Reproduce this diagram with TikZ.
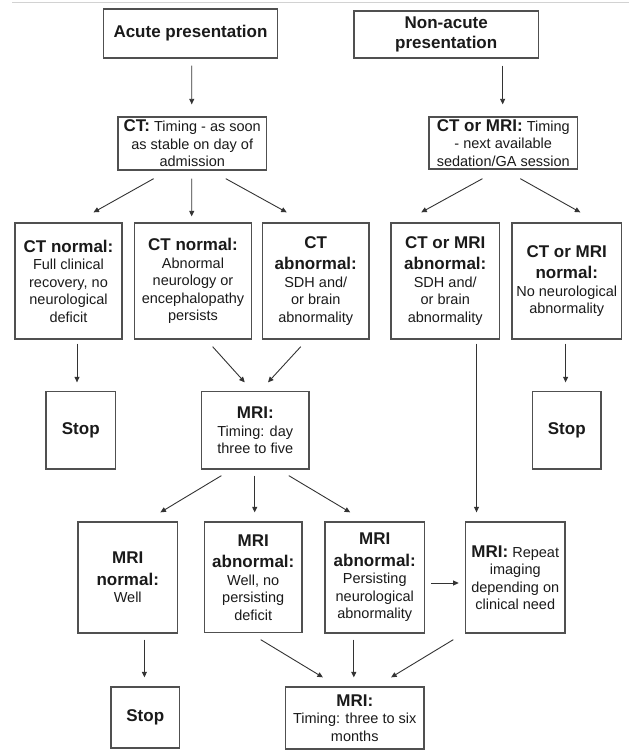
\documentclass[tikz,border=0pt]{standalone}
\usepackage{fontspec}
\setmainfont{Liberation Sans}
\usetikzlibrary{calc,arrows.meta}
\definecolor{boxline}{HTML}{505050}
\definecolor{arrline}{HTML}{333333}
\definecolor{txt}{HTML}{1A1A1A}
\newcommand\hd[1]{{\fontsize{17}{17.5}\selectfont\bfseries #1}}
\begin{document}
\begin{tikzpicture}[x=1pt,y=-1pt,
  box/.style={draw=boxline, line width=1.3pt, align=center, inner sep=0pt, text=txt,
    font=\fontsize{14.5}{17.5}\selectfont},
  arr/.style={draw=arrline, line width=0.9pt, -{Triangle[length=5.5pt,width=5pt]}}]
\useasboundingbox (0,0) rectangle (629,751);
\draw[gray!35, line width=1pt] (12,3) -- (629,3);
% row 1
\node[box, minimum width=174pt, minimum height=49pt] (acute) at (190.5,33.5) {\hd{Acute presentation}};
\node[box, minimum width=184.5pt, minimum height=47pt] (nonacute) at (446.25,34.5) {\hd{Non-acute}\\[3pt]\hd{presentation}};
% row 2
\node[box, minimum width=148.5pt, minimum height=53pt] (ct) at (192.25,143.5) {\hd{CT:} Timing - as soon\\as stable on day of\\admission};
\node[box, minimum width=148.5pt, minimum height=52pt] (ctmri) at (503.25,143) {\hd{CT or MRI:} Timing\\- next available\\sedation/GA session};
% row 3
\node[box, minimum width=107pt, minimum height=116pt] (n1) at (68.5,281) {\hd{CT normal:}\\Full clinical\\recovery, no\\neurological\\deficit};
\node[box, minimum width=117pt, minimum height=116pt] (n2) at (193,281) {\hd{CT normal:}\\Abnormal\\neurology or\\encephalopathy\\persists};
\node[box, minimum width=106.5pt, minimum height=116pt] (n3) at (315.75,281) {\hd{CT}\\[4pt]\hd{abnormal:}\\SDH and/\\or brain\\abnormality};
\node[box, minimum width=108.5pt, minimum height=116pt] (n4) at (445.25,281) {\hd{CT or MRI}\\[4pt]\hd{abnormal:}\\SDH and/\\or brain\\abnormality};
\node[box, minimum width=109.5pt, minimum height=116pt] (n5) at (566.75,281) {\hd{CT or MRI}\\[4pt]\hd{normal:}\\No neurological\\abnormality};
% row 4
\node[box, minimum width=69.5pt, minimum height=77.5pt] (stop1) at (80.75,430.25) {\hd{Stop}};
\node[box, minimum width=107.5pt, minimum height=77.5pt] (mri) at (255.25,430.25) {\hd{MRI:}\\Timing: day\\three to five};
\node[box, minimum width=68.5pt, minimum height=77.5pt] (stop2) at (566.75,430.25) {\hd{Stop}};
% row 5
\node[box, minimum width=99.5pt, minimum height=111pt] (m1) at (127.75,577.5) {\hd{MRI}\\[4pt]\hd{normal:}\\Well};
\node[box, minimum width=97.5pt, minimum height=110.5pt] (m2) at (253.25,577.25) {\hd{MRI}\\[4pt]\hd{abnormal:}\\Well, no\\persisting\\deficit};
\node[box, minimum width=99.5pt, minimum height=111pt] (m3) at (374.75,577.5) {\hd{MRI}\\[4pt]\hd{abnormal:}\\Persisting\\neurological\\abnormality};
\node[box, minimum width=99.5pt, minimum height=111pt] (m4) at (515.25,577.5) {\hd{MRI:} Repeat\\imaging\\depending on\\clinical need};
% row 6
\node[box, minimum width=68.5pt, minimum height=61pt] (stop3) at (145.25,717.5) {\hd{Stop}};
\node[box, minimum width=138.5pt, minimum height=62pt] (final) at (354.75,718) {\hd{MRI:}\\Timing: three to six\\months};
% connectors
\draw[arr] ($(acute.south)+(1.2,7)$) -- ($(ct.north)+(-0.5,-12)$);
\draw[arr] ($(nonacute.south)+(56.4,7)$) -- ($(ctmri.north)+(-0.6,-12)$);
\draw[arr] ($(ct.south)+(-38.6,8)$) -- ($(n1.north)+(25,-10)$);
\draw[arr] ($(ct.south)+(-0.5,8)$) -- ($(n2.north)+(-1.3,-6)$);
\draw[arr] ($(ct.south)+(33.5,8)$) -- ($(n3.north)+(-29,-10)$);
\draw[arr] ($(ctmri.south)+(-20.75,9)$) -- ($(n4.north)+(-24,-10)$);
\draw[arr] ($(ctmri.south)+(17,9)$) -- ($(n5.north)+(13.6,-10)$);
\draw[arr] ($(n1.south)+(8.5,4)$) -- ($(stop1.north)+(-3.75,-8.5)$);
\draw[arr] ($(n5.south)+(-1.15,4)$) -- ($(stop2.north)+(-1.15,-8.5)$);
\draw[arr] ($(n4.south)+(31.25,4)$) -- ($(m4.north)+(-38.75,-9)$);
\draw[arr] ($(n2.south)+(19.6,7)$) -- ($(mri.north)+(-10.5,-8.5)$);
\draw[arr] ($(n3.south)+(-15,7)$) -- ($(mri.north)+(12.75,-8.5)$);
\draw[arr] ($(mri.south)+(-33.85,6)$) -- ($(m1.north)+(32.65,-9)$);
\draw[arr] ($(mri.south)+(-0.55,6)$) -- ($(m2.north)+(1.45,-9)$);
\draw[arr] ($(mri.south)+(33.55,6)$) -- ($(m3.north)+(-24.55,-9)$);
\draw[arr] ($(m3.east)+(5.9,5.5)$) -- ($(m4.west)+(-6.2,5.5)$);
\draw[arr] ($(m1.south)+(16.65,6)$) -- ($(stop3.north)+(-0.85,-9)$);
\draw[arr] ($(m2.south)+(7.45,6.5)$) -- ($(final.north)+(-31.85,-9)$);
\draw[arr] ($(m3.south)+(-20.95,6)$) -- ($(final.north)+(-0.95,-9)$);
\draw[arr] ($(m4.south)+(-61.95,6)$) -- ($(final.north)+(36.35,-9)$);
\end{tikzpicture}
\end{document}
